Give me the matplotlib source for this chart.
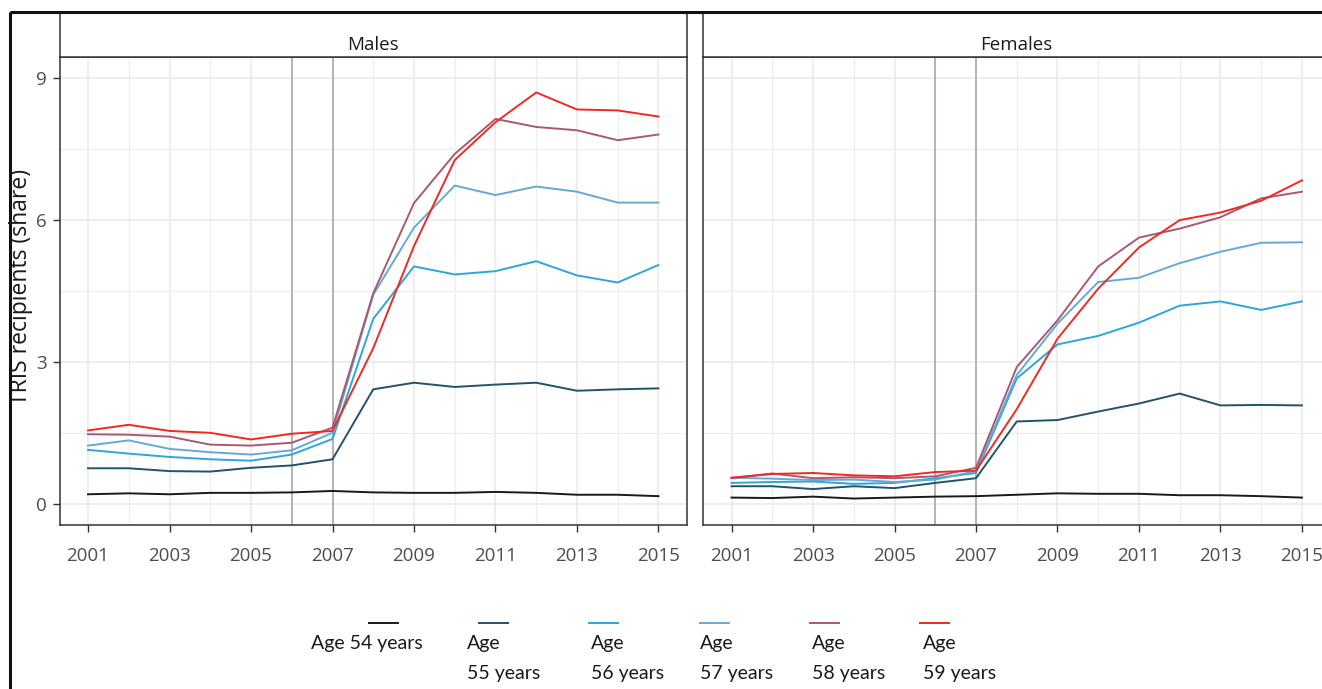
import matplotlib
matplotlib.use("Agg")
import matplotlib.pyplot as plt
from matplotlib.patches import Rectangle

# ---------------- data ----------------
years = list(range(2001, 2016))
panels = ["Males", "Females"]
series_labels = ["Age 54 years", "Age\n55 years", "Age\n56 years",
                 "Age\n57 years", "Age\n58 years", "Age\n59 years"]

males_54 = [0.20, 0.22, 0.20, 0.23, 0.23, 0.24, 0.27, 0.24, 0.23, 0.23, 0.25, 0.23, 0.19, 0.19, 0.16]
males_55 = [0.75, 0.75, 0.69, 0.68, 0.76, 0.81, 0.94, 2.42, 2.56, 2.47, 2.52, 2.56, 2.39, 2.42, 2.44]
males_56 = [1.14, 1.06, 0.99, 0.94, 0.91, 1.04, 1.37, 3.91, 5.02, 4.85, 4.92, 5.13, 4.83, 4.68, 5.05]
males_57 = [1.23, 1.34, 1.16, 1.09, 1.04, 1.13, 1.50, 4.42, 5.84, 6.73, 6.53, 6.71, 6.60, 6.37, 6.37]
males_58 = [1.47, 1.46, 1.42, 1.25, 1.23, 1.29, 1.61, 4.45, 6.36, 7.40, 8.14, 7.97, 7.90, 7.69, 7.81]
males_59 = [1.55, 1.67, 1.54, 1.50, 1.36, 1.48, 1.54, 3.29, 5.45, 7.27, 8.07, 8.70, 8.34, 8.32, 8.19]

females_54 = [0.13, 0.12, 0.15, 0.11, 0.13, 0.15, 0.16, 0.19, 0.22, 0.21, 0.21, 0.18, 0.18, 0.16, 0.13]
females_55 = [0.37, 0.37, 0.31, 0.37, 0.33, 0.44, 0.54, 1.74, 1.77, 1.95, 2.12, 2.33, 2.08, 2.09, 2.08]
females_56 = [0.44, 0.46, 0.47, 0.42, 0.44, 0.54, 0.65, 2.65, 3.37, 3.55, 3.83, 4.19, 4.28, 4.10, 4.28]
females_57 = [0.55, 0.53, 0.50, 0.51, 0.46, 0.51, 0.69, 2.72, 3.81, 4.69, 4.78, 5.09, 5.33, 5.52, 5.53]
females_58 = [0.54, 0.64, 0.54, 0.56, 0.54, 0.58, 0.76, 2.89, 3.88, 5.02, 5.63, 5.82, 6.06, 6.46, 6.60]
females_59 = [0.55, 0.63, 0.65, 0.60, 0.58, 0.67, 0.70, 2.00, 3.49, 4.55, 5.42, 6.00, 6.16, 6.41, 6.84]

reform_years = [2006, 2007]
x_ticks = [2001, 2003, 2005, 2007, 2009, 2011, 2013, 2015]
y_ticks = [0, 3, 6, 9]

panel_data = {
    "Males": [males_54, males_55, males_56, males_57, males_58, males_59],
    "Females": [females_54, females_55, females_56, females_57, females_58, females_59],
}

colors = ["#1A1A1A", "#22536A", "#2EA6D8", "#67A9D5", "#A75A72", "#EE2A22"]

# ---------------- layout (pixels) ----------------
W, H = 1322, 689
fig = plt.figure(figsize=(W / 100, H / 100), dpi=100)
FONT = ["Open Sans", "DejaVu Sans"]
LFONT = ["Lato", "DejaVu Sans"]

def fbox(x0, y0, x1, y1):
    return [x0 / W, 1 - y1 / H, (x1 - x0) / W, (y1 - y0) / H]

panel_x = [(59.5, 687.0), (703.0, 1330.5)]
panel_top, panel_bottom = 57.0, 525.0
strip_top = 13.0

for i, name in enumerate(panels):
    x0, x1 = panel_x[i]
    ax = fig.add_axes(fbox(x0, panel_top, x1, panel_bottom))
    ax.set_xlim(2000.3, 2015.7)
    ax.set_ylim(-0.45, 9.45)
    ax.set_xticks(x_ticks)
    ax.set_xticks([y for y in years if y not in x_ticks], minor=True)
    ax.set_yticks(y_ticks)
    ax.set_yticks([1.5, 4.5, 7.5], minor=True)
    ax.grid(which="major", color="#EBEBEB", lw=1.2)
    ax.grid(which="minor", color="#EEEEEE", lw=0.9)
    ax.set_axisbelow(True)
    for yr in reform_years:
        ax.axvline(yr, color="#A3A3A3", lw=1.1, zorder=2)
    for vals, c in zip(panel_data[name], colors):
        ax.plot(years, vals, color=c, lw=1.4, zorder=3)
    for s in ax.spines.values():
        s.set_color("#333333")
        s.set_linewidth(1.1)
    ax.tick_params(which="major", length=5, width=1.0, color="#333333",
                   labelcolor="#4D4D4D", labelsize=13.5)
    ax.tick_params(axis="x", pad=11)
    ax.tick_params(axis="y", pad=4)
    ax.tick_params(which="minor", length=0)
    for lab in ax.get_xticklabels() + ax.get_yticklabels():
        lab.set_fontfamily(FONT)
    if i == 1:
        ax.tick_params(axis="y", which="both", left=False, labelleft=False)

    sax = fig.add_axes(fbox(x0, strip_top, x1, panel_top))
    sax.set_xticks([])
    sax.set_yticks([])
    sax.set_facecolor("white")
    for s in sax.spines.values():
        s.set_color("#333333")
        s.set_linewidth(1.1)
    sax.text(0.5, 0.28, name, transform=sax.transAxes, ha="center", va="center",
             fontsize=13.5, color="#1A1A1A", family=FONT)

fig.text(21 / W, 1 - 287 / H, "TRIS recipients (share)", rotation=90,
         ha="center", va="center", fontsize=16.5, color="#1A1A1A", family=FONT)

# overlay axes in pixel coords for outer frame and legend
ov = fig.add_axes([0, 0, 1, 1], zorder=10)
ov.set_xlim(0, W)
ov.set_ylim(H, 0)
ov.axis("off")
ov.patch.set_alpha(0)
ov.add_patch(Rectangle((10, 12), W + 20, H + 20, fill=False, edgecolor="#111111", lw=2.2))

key_x0, key_step, key_w, key_y = 368, 110.2, 31, 623
label_left = [311, 467, 591, 700, 812, 923]
for k, (lab, c) in enumerate(zip(series_labels, colors)):
    kx = key_x0 + key_step * k
    ov.plot([kx, kx + key_w], [key_y, key_y], color=c, lw=1.4, solid_capstyle="butt")
    ov.text(label_left[k], 635, lab, ha="left", va="top", fontsize=14,
            color="#1A1A1A", family=LFONT, linespacing=1.95)

fig.savefig("out.png", dpi=100)
